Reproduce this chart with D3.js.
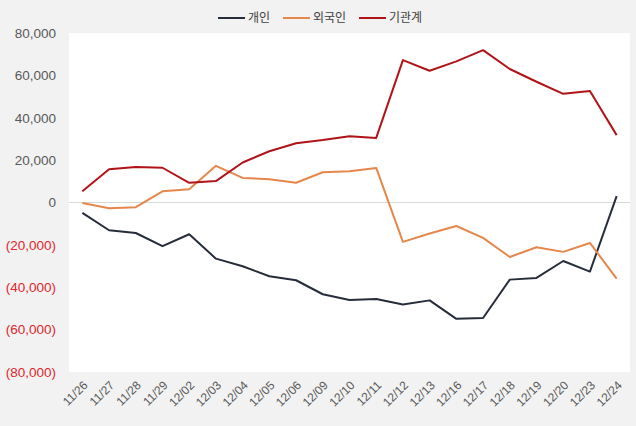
<!DOCTYPE html>
<html>
<head>
<meta charset="utf-8">
<script src="https://cdn.jsdelivr.net/npm/d3@7"></script>
<style>
  html, body { margin: 0; padding: 0; background: #f2f2f2; }
  svg { display: block; }
</style>
</head>
<body>
<svg width="636" height="426"></svg>
<script>
// dates on the x axis
var dates = ['11/26','11/27','11/28','11/29','12/02','12/03','12/04','12/05','12/06','12/09','12/10',
             '12/11','12/12','12/13','12/16','12/17','12/18','12/19','12/20','12/23','12/24'];

// net buying per investor group
var individual = [-4900,-13100,-14400,-20600,-15000,-26500,-30100,-34800,-36700,-43300,-46000,
                  -45500,-48100,-46200,-54900,-54500,-36400,-35600,-27600,-32600,3000];
var foreign = [-200,-2700,-2200,5300,6300,17300,11600,11000,9300,14300,14800,
               16300,-18600,-14600,-11100,-16700,-25700,-21100,-23300,-19100,-35900];
var institution = [5300,15700,16800,16400,9300,10100,18900,24200,28000,29500,31300,
                   30500,67200,62200,66600,71900,63000,57000,51300,52600,31800];

var seriesNames = ['개인', '외국인', '기관계'];
var seriesColors = ['#262d3a', '#e5874a', '#b01419'];
var yTicks = [80000, 60000, 40000, 20000, 0, -20000, -40000, -60000, -80000];

var svg = d3.select('svg');
var plotL = 69, plotR = 630, plotT = 33, plotB = 372;
var font = '"Liberation Sans", Arial, "Noto Sans CJK KR", sans-serif';

svg.append('rect')
  .attr('x', plotL).attr('y', plotT)
  .attr('width', plotR - plotL).attr('height', plotB - plotT)
  .attr('fill', '#ffffff');

var x = d3.scaleBand().domain(dates).range([plotL, plotR]);
var y = d3.scaleLinear().domain([-80000, 80000]).range([plotB, plotT]);

function fmt(v) {
  var s = d3.format(',')(Math.abs(v));
  return v < 0 ? '(' + s + ')' : s;
}

// y axis labels, no line
var yAxis = d3.axisLeft(y).tickValues(yTicks).tickSize(0).tickPadding(13).tickFormat(fmt);
var yg = svg.append('g').attr('transform', 'translate(' + plotL + ',0)').call(yAxis);
yg.select('.domain').remove();
yg.selectAll('text')
  .style('font-family', font).style('font-size', '13.5px')
  .attr('fill', function(d){ return d < 0 ? '#e0262b' : '#595959'; });

// zero line
svg.append('line')
  .attr('x1', plotL).attr('x2', plotR)
  .attr('y1', y(0)).attr('y2', y(0))
  .attr('stroke', '#d9d9d9').attr('stroke-width', 1);

// x axis labels, rotated
var xAxis = d3.axisBottom(x).tickSize(0).tickPadding(0);
var xg = svg.append('g').attr('transform', 'translate(0,' + plotB + ')').call(xAxis);
xg.select('.domain').remove();
xg.selectAll('text')
  .style('font-family', font).style('font-size', '12px')
  .attr('fill', '#595959')
  .attr('text-anchor', 'end')
  .attr('dy', 0)
  .attr('transform', 'translate(6,14) rotate(-45)');

var line = d3.line()
  .x(function(d, i){ return x(dates[i]) + x.bandwidth() / 2; })
  .y(function(d){ return y(d); });

[individual, foreign, institution].forEach(function(data, k){
  svg.append('path')
    .datum(data)
    .attr('d', line)
    .attr('fill', 'none')
    .attr('stroke', seriesColors[k])
    .attr('stroke-width', 2)
    .attr('stroke-linejoin', 'round');
});

// legend
var legendX = [218, 283, 359];
var lg = svg.append('g');
seriesNames.forEach(function(n, k){
  lg.append('line')
    .attr('x1', legendX[k]).attr('x2', legendX[k] + 27)
    .attr('y1', 18).attr('y2', 18)
    .attr('stroke', seriesColors[k]).attr('stroke-width', 2);
  lg.append('text')
    .attr('x', legendX[k] + 30).attr('y', 22)
    .style('font-family', '"Noto Sans CJK KR", sans-serif').style('font-size', '12px')
    .attr('fill', '#404040')
    .text(n);
});
</script>
</body>
</html>
